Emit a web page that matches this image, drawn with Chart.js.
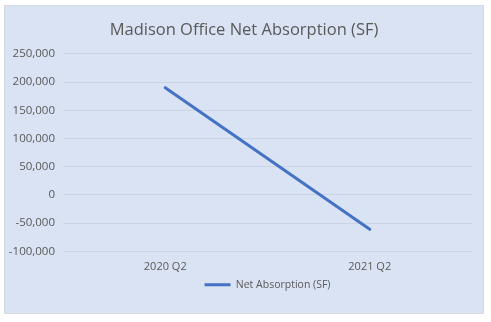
<!DOCTYPE html>
<html>
<head>
<meta charset="utf-8">
<script src="https://cdn.jsdelivr.net/npm/chart.js@4"></script>
<style>
  body { margin: 0; background: #ffffff; }
  #panel {
    position: absolute; left: 4px; top: 5px; width: 478px; height: 307px;
    background: #dae3f3; border: 1px solid #d4d9e0;
  }
  #wrap { position: absolute; left: 0; top: 0; width: 491px; height: 322px; }
</style>
</head>
<body>
<div id="panel"></div>
<div id="wrap"><canvas id="absorptionChart"></canvas></div>
<script>
const quarters = ["2020 Q2", "2021 Q2"];
const netAbsorption = [190000, -61000];
const yMin = -100000;
const yMax = 250000;
const yStep = 50000;

const textColor = "#595959";
const fontFamily = "'Open Sans', 'Liberation Sans', sans-serif";

// Excel centres the title on the chart panel and the legend under the plot area
const excelPlacement = {
  id: "excelPlacement",
  afterLayout(chart) {
    const panel = document.getElementById("panel");
    if (chart.titleBlock) {
      chart.titleBlock.left = panel.offsetLeft;
      chart.titleBlock.right = panel.offsetLeft + panel.offsetWidth;
    }
    if (chart.legend) {
      chart.legend.left = chart.chartArea.left;
      chart.legend.right = chart.chartArea.right;
    }
  },
};

const ctx = document.getElementById("absorptionChart").getContext("2d");
new Chart(ctx, {
  type: "line",
  data: {
    labels: quarters,
    datasets: [
      {
        label: "Net Absorption (SF)",
        data: netAbsorption,
        borderColor: "#4472c4",
        backgroundColor: "#4472c4",
        borderWidth: 3,
        pointRadius: 0,
        borderCapStyle: "round",
        tension: 0,
        fill: false,
      },
    ],
  },
  options: {
    responsive: true,
    maintainAspectRatio: false,
    animation: false,
    layout: { padding: { top: 10, right: 19, bottom: 22, left: 0 } },
    scales: {
      x: {
        offset: true,
        grid: { display: false, drawTicks: true, tickLength: 8 },
        border: { display: false },
        ticks: { color: textColor, font: { family: fontFamily, size: 11 }, padding: 1 },
      },
      y: {
        min: yMin,
        max: yMax,
        ticks: {
          stepSize: yStep,
          color: textColor,
          font: { family: fontFamily, size: 11.5 },
          padding: 8,
          callback: (v) => v.toLocaleString("en-US"),
        },
        grid: { color: "#cbd4e3", drawTicks: false },
        border: { display: false },
        afterFit: (scale) => { scale.width = 63; },
      },
    },
    plugins: {
      title: {
        display: true,
        text: "Madison Office Net Absorption (SF)",
        color: textColor,
        font: { family: fontFamily, size: 16.5, weight: "normal" },
        padding: { top: 10, bottom: 14 },
      },
      legend: {
        position: "bottom",
        labels: {
          color: textColor,
          font: { family: fontFamily, size: 10.5 },
          usePointStyle: true,
          pointStyle: "line",
          pointStyleWidth: 26,
          padding: 5,
        },
      },
      tooltip: { enabled: false },
    },
  },
  plugins: [excelPlacement],
});
</script>
</body>
</html>
